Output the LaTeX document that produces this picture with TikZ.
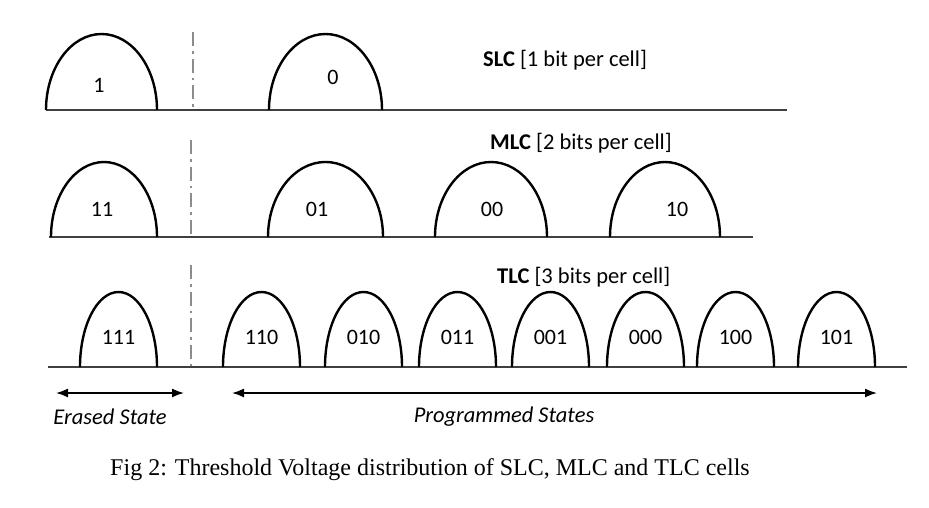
\documentclass[tikz,border=0pt]{standalone}
\usepackage{fontspec}
\setmainfont{Liberation Serif}
\newfontfamily\cellfont{Carlito}
\usetikzlibrary{arrows.meta}

\begin{document}
\begin{tikzpicture}[x=1pt,y=-1pt,
    hump/.style={line width=2.4pt},
    axis/.style={line width=1.6pt,black!75},
    divider/.style={line width=2.6pt,black!45,dash pattern=on 14pt off 5pt on 2.5pt off 5pt},
    state/.style={font=\cellfont\fontsize{22}{26}\selectfont},
    title/.style={anchor=west,inner sep=0pt,font=\cellfont\fontsize{22.5}{27}\selectfont},
    note/.style={font=\cellfont\itshape\fontsize{22.5}{27}\selectfont},
    stretch/.style={line width=1.6pt,{Latex[length=12pt,width=9pt]}-{Latex[length=12pt,width=9pt]}}]
    \useasboundingbox (0,0) rectangle (929,507);

    % SLC
    \draw[axis] (46,110) -- (787,110);
    \draw[divider] (193,32) -- (193,110);
    \draw[hump] (46,110) arc[start angle=180,end angle=0,x radius=55.5pt,y radius=76pt];
    \draw[hump] (269,110) arc[start angle=180,end angle=0,x radius=56.5pt,y radius=76pt];
    \node[state] (s1) at (99,85) {1};
    \node[state] (s0) at (333,77) {0};
    \node[title] (slc) at (483,60) {\textbf{SLC} [1 bit per cell]};

    % MLC
    \draw[axis] (49,237) -- (753,237);
    \draw[divider] (191,140) -- (191,237);
    \draw[hump] (51,237) arc[start angle=180,end angle=0,x radius=53pt,y radius=75pt];
    \draw[hump] (268,237) arc[start angle=180,end angle=0,x radius=57.5pt,y radius=75pt];
    \draw[hump] (435,237) arc[start angle=180,end angle=0,x radius=56pt,y radius=75pt];
    \draw[hump] (610,237) arc[start angle=180,end angle=0,x radius=55pt,y radius=75pt];
    \node[state] (m11) at (102,209) {11};
    \node[state] (m01) at (317,209) {01};
    \node[state] (m00) at (492,209) {00};
    \node[state] (m10) at (677,209) {10};
    \node[title] (mlc) at (490,143) {\textbf{MLC} [2 bits per cell]};

    % TLC
    \draw[axis] (48,367) -- (907,367);
    \draw[divider] (191,265) -- (191,367);
    \foreach \l/\t/\n in {80/111/t111,223/110/t110,325/010/t010,419/011/t011,
                          512/001/t001,607/000/t000,697/100/t100,798/101/t101}{
        \draw[hump] (\l,367) arc[start angle=180,end angle=0,x radius=38.5pt,y radius=75pt];
        \node[state] (\n) at (\l+38.5,337) {\t};
    }
    \node[title] (tlc) at (497,277) {\textbf{TLC} [3 bits per cell]};

    % ranges
    \coordinate (e1) at (56,393);
    \coordinate (e2) at (184,393);
    \coordinate (p1) at (232,393);
    \coordinate (p2) at (877,393);
    \draw[stretch] (e1) -- (e2);
    \draw[stretch] (p1) -- (p2);
    \node[note] (erased) at (110,417) {Erased State};
    \node[note] (prog) at (504,417) {Programmed States};

    \node[font=\fontsize{24}{28}\selectfont] (cap) at (430,470) {Fig 2: Threshold Voltage distribution of SLC, MLC and TLC cells};
\end{tikzpicture}
\end{document}
